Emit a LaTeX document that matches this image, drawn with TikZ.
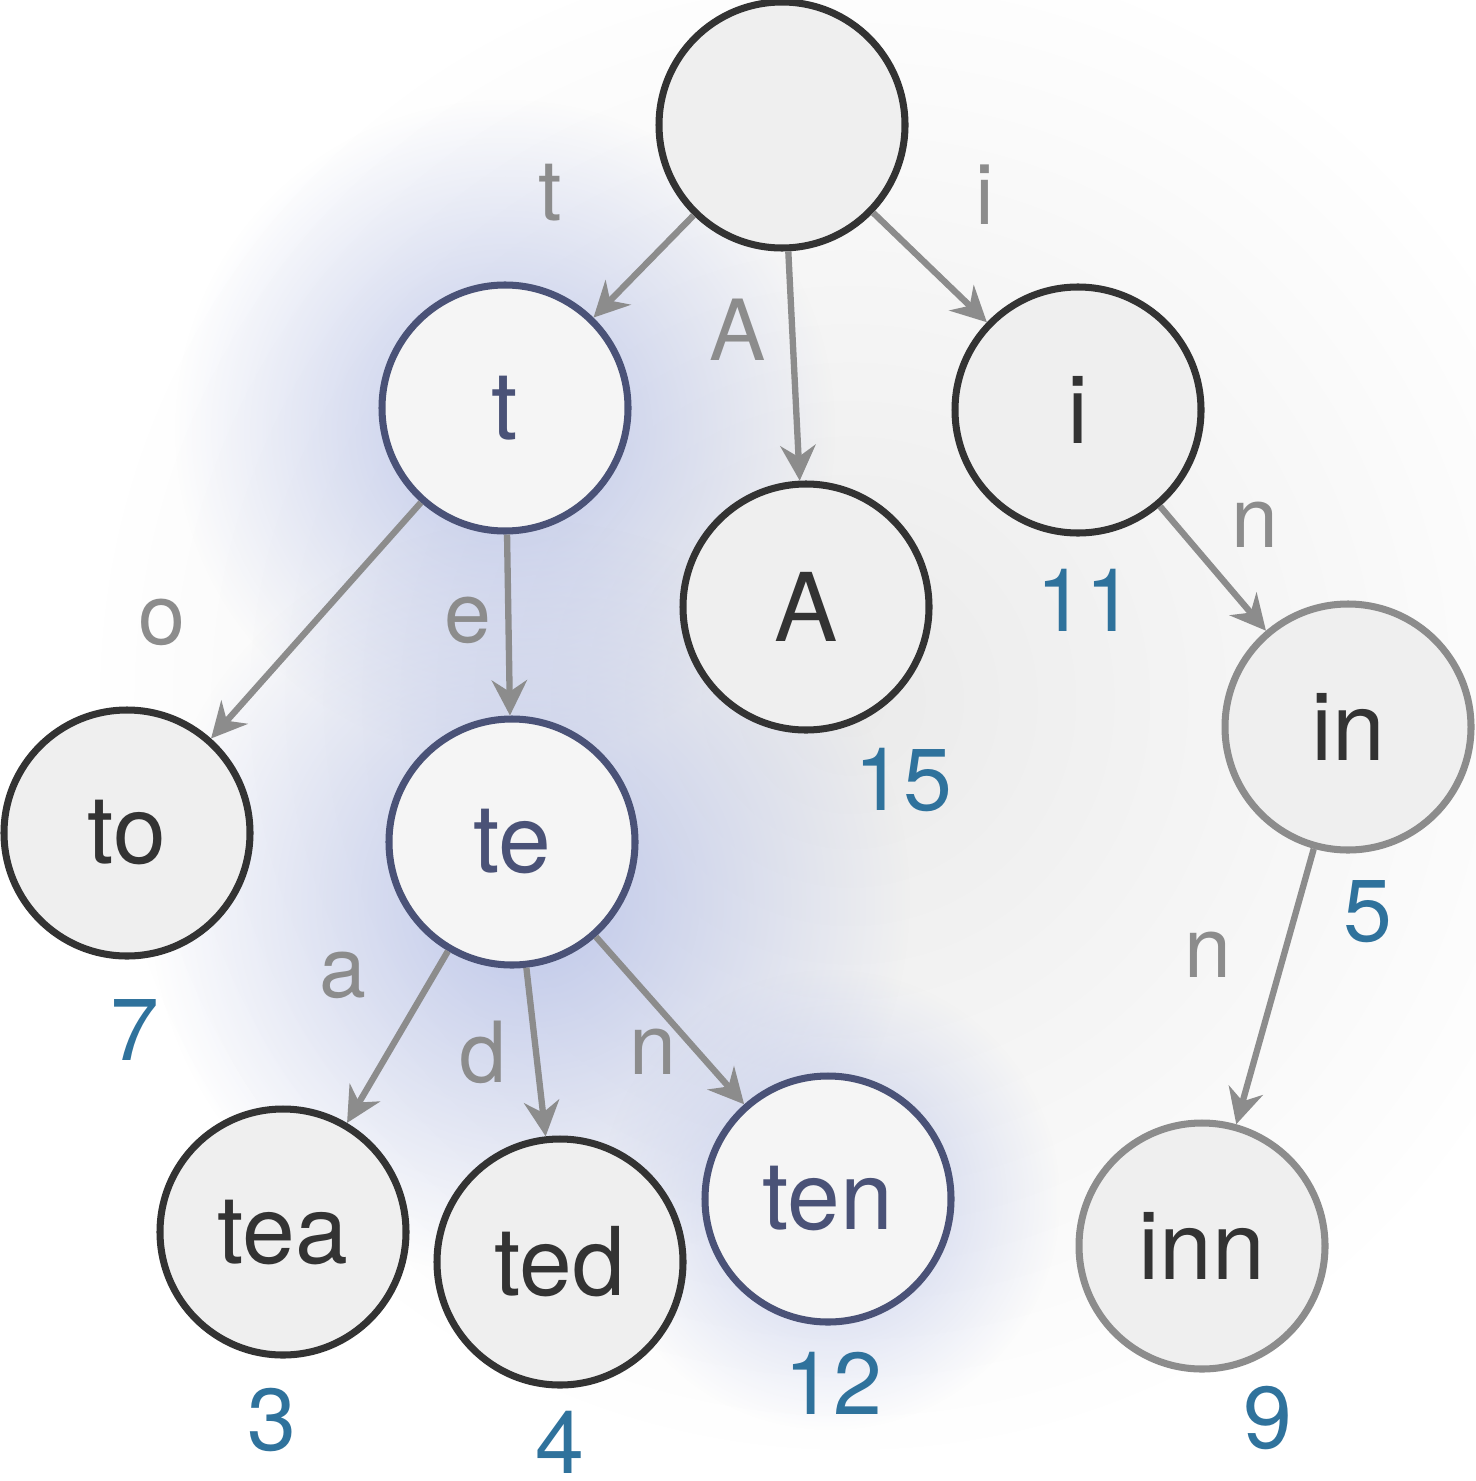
\documentclass[tikz,border=0pt]{standalone}
\usepackage{fontspec}
\setmainfont{TeX Gyre Heros}
\usetikzlibrary{arrows.meta,fadings}
\definecolor{nfill}{HTML}{EFEFEF}
\definecolor{ndark}{HTML}{333333}
\definecolor{nblue}{HTML}{4A5277}
\definecolor{egray}{HTML}{8C8C8C}
\definecolor{numblue}{HTML}{2F729C}
\definecolor{glow}{HTML}{B8C2E8}
\tikzfading[name=rfade, inner color=transparent!0, outer color=transparent!100]
\tikzset{
 tnode/.style={circle,draw=ndark,fill=nfill,line width=2pt,minimum size=2.46cm,inner sep=0pt,text=ndark,font=\fontsize{27}{30}\selectfont},
 hnode/.style={tnode,draw=nblue,text=nblue,fill=nfill!60!white},
 gnode/.style={tnode,draw=egray},
 edge/.style={draw=egray,line width=1.8pt,-{Stealth[length=10pt,width=10pt]}},
 elab/.style={text=egray,font=\fontsize{24}{28}\selectfont},
 num/.style={text=numblue,font=\fontsize{25}{28}\selectfont},
}
\begin{document}
\begin{tikzpicture}
\useasboundingbox (0,0) rectangle (14.76,-14.81);
\fill[white] (0,0) rectangle (14.76,-14.81);
\fill[black!8,path fading=rfade] (8.5,-7) circle (7.5cm);
\fill[glow,path fading=rfade,opacity=0.9] (5.05,-4.3) circle (3.3cm);
\fill[glow,path fading=rfade,opacity=0.9] (5.3,-9.0) circle (3.8cm);
\fill[glow,path fading=rfade,opacity=0.8] (8.3,-12.0) circle (2.3cm);
\node[tnode] (root) at (7.82,-1.25) {};
\node[hnode] (t) at (5.05,-4.08) {t};
\node[tnode] (A) at (8.06,-6.07) {A};
\node[tnode] (i) at (10.78,-4.10) {i};
\node[gnode] (in) at (13.48,-7.27) {in};
\node[tnode] (to) at (1.27,-8.33) {to};
\node[hnode] (te) at (5.12,-8.42) {te};
\node[tnode] (tea) at (2.83,-12.32) {tea};
\node[tnode] (ted) at (5.60,-12.62) {ted};
\node[hnode] (ten) at (8.28,-11.99) {ten};
\node[gnode] (inn) at (12.02,-12.46) {inn};
\draw[edge] (root) -- (t);
\draw[edge] (root) -- (A);
\draw[edge] (root) -- (i);
\draw[edge] (i) -- (in);
\draw[edge] (in) -- (inn);
\draw[edge] (t) -- (to);
\draw[edge] (t) -- (te);
\draw[edge] (te) -- (tea);
\draw[edge] (te) -- (ted);
\draw[edge] (te) -- (ten);
\node[elab] (lt) at (5.50,-1.93) {t};
\node[elab] (li) at (9.85,-1.95) {i};
\node[elab] (lA) at (7.38,-3.30) {A};
\node[elab] (lo) at (1.62,-6.22) {o};
\node[elab] (le) at (4.68,-6.20) {e};
\node[elab] (ln1) at (12.55,-5.25) {n};
\node[elab] (la) at (3.43,-9.75) {a};
\node[elab] (ld) at (4.83,-10.52) {d};
\node[elab] (ln2) at (6.53,-10.52) {n};
\node[elab] (ln3) at (12.08,-9.55) {n};
\node[num] (n7) at (1.35,-10.30) {7};
\node[num] (n3) at (2.72,-14.20) {3};
\node[num] (n4) at (5.60,-14.42) {4};
\node[num] (n12) at (8.33,-13.83) {12};
\node[num] (n15) at (9.03,-7.80) {15};
\node[num] (n11) at (10.85,-6.00) {11};
\node[num] (n5) at (13.68,-9.12) {5};
\node[num] (n9) at (12.68,-14.18) {9};
\end{tikzpicture}
\end{document}
